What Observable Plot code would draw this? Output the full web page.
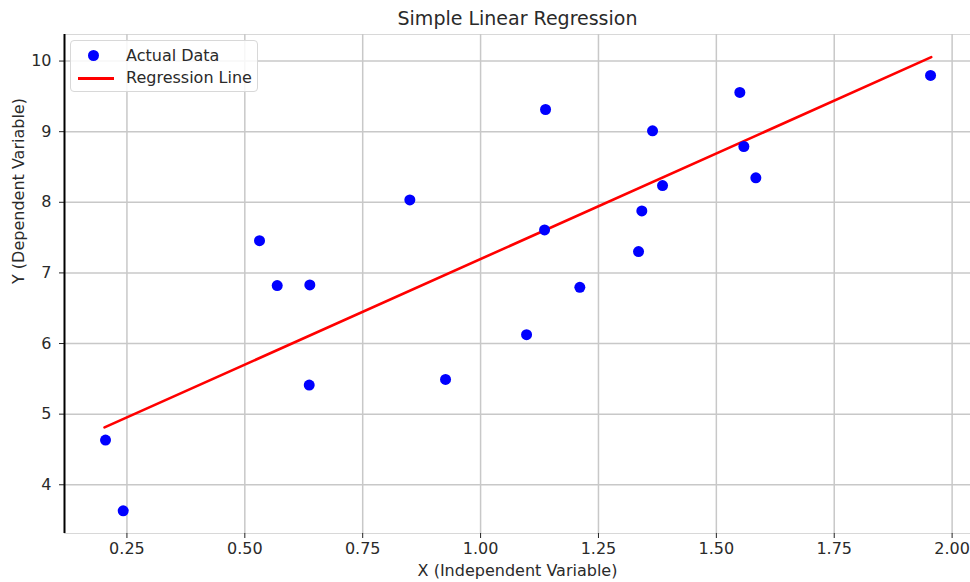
<!DOCTYPE html>
<html>
<head>
<meta charset="utf-8">
<script src="https://cdn.jsdelivr.net/npm/d3@7"></script>
<script src="https://cdn.jsdelivr.net/npm/@observablehq/plot@0.6"></script>
<style>
  html, body { margin: 0; padding: 0; background: #fff; }
  #wrap { position: relative; width: 970px; height: 582px; font-family: "DejaVu Sans", sans-serif; }
  #legend { position: absolute; left: 70px; top: 40px; width: 188px; height: 52px; box-sizing: border-box;
            border: 1px solid #d8d8d8; border-radius: 4px; background: rgba(255,255,255,0.85); }
  .row { position: absolute; left: 0; height: 20px; width: 100%; }
  .lbl { position: absolute; left: 55px; top: 0; font-size: 16px; line-height: 20px; color: #2a2a2a; white-space: nowrap; }
  .dot { position: absolute; left: 17px; top: 4px; width: 11px; height: 11px; border-radius: 50%; background: #0000ff; }
  .ln { position: absolute; left: 7px; top: 9px; width: 36px; height: 3px; background: #ff0000; }
</style>
</head>
<body>
<div id="wrap"></div>
<script>
// Data
const xData = [0.2046, 0.2421, 0.5312, 0.5687, 0.6379, 0.6366, 0.8500, 0.9257, 1.0975, 1.1378,
               1.1357, 1.2105, 1.3350, 1.3420, 1.3647, 1.3859, 1.5498, 1.5583, 1.5838, 1.9543];
const yData = [4.633, 3.631, 7.457, 6.820, 6.830, 5.412, 8.034, 5.492, 6.125, 9.314,
               7.609, 6.796, 7.302, 7.878, 9.012, 8.237, 9.555, 8.790, 8.346, 9.796];
// Regression line end points (as drawn)
const lineX = [0.2025, 1.9558];
const lineY = [4.812, 10.055];
const xTicks = [0.25, 0.50, 0.75, 1.00, 1.25, 1.50, 1.75, 2.00];
const yTicks = [4, 5, 6, 7, 8, 9, 10];
const xDomain = [0.1176, 2.039];
const yDomain = [3.31, 10.376];
const titleText = "Simple Linear Regression";
const xLabel = "X (Independent Variable)";
const yLabel = "Y (Dependent Variable)";
const legendLabels = ["Actual Data", "Regression Line"];

const points = xData.map((x, i) => ({x, y: yData[i]}));
const line = lineX.map((x, i) => ({x, y: lineY[i]}));

const chart = Plot.plot({
  width: 970,
  height: 582,
  marginLeft: 64,
  marginRight: 0,
  marginTop: 34,
  marginBottom: 49,
  style: {fontFamily: "DejaVu Sans, sans-serif", background: "white", color: "#2a2a2a"},
  x: {domain: xDomain},
  y: {domain: yDomain},
  marks: [
    Plot.frame({stroke: "#d8d8d8"}),
    Plot.gridX(xTicks, {stroke: "#c8c8c8", strokeOpacity: 1, strokeWidth: 1.5}),
    Plot.gridY(yTicks, {stroke: "#c8c8c8", strokeOpacity: 1, strokeWidth: 1.5}),
    Plot.axisX(xTicks, {tickFormat: d3.format(".2f"), tickSize: 5, tickPadding: 4, fontSize: 16, label: null, stroke: "#222"}),
    Plot.axisY(yTicks, {tickFormat: d3.format("d"), tickSize: 5, tickPadding: 8, fontSize: 16, label: null, stroke: "#222"}),
    Plot.ruleX([xDomain[0]], {stroke: "black", strokeWidth: 2}),
    Plot.line(line, {x: "x", y: "y", stroke: "#ff0000", strokeWidth: 2.6}),
    Plot.dot(points, {x: "x", y: "y", r: 5.5, fill: "#0000ff", stroke: "none"}),
    Plot.text([titleText], {frameAnchor: "top", lineAnchor: "middle", dy: -16, fontSize: 19, fill: "#2a2a2a"}),
    Plot.text([xLabel], {frameAnchor: "bottom", lineAnchor: "middle", dy: 37, fontSize: 16, fill: "#2a2a2a"}),
    Plot.text([yLabel], {frameAnchor: "left", lineAnchor: "middle", dx: -46, rotate: -90, fontSize: 16, fill: "#2a2a2a"})
  ]
});

const wrap = document.getElementById("wrap");
wrap.appendChild(chart);
const legend = document.createElement("div");
legend.id = "legend";
legend.innerHTML =
  `<div class="row" style="top:5px"><div class="dot"></div><div class="lbl">${legendLabels[0]}</div></div>` +
  `<div class="row" style="top:27px"><div class="ln"></div><div class="lbl">${legendLabels[1]}</div></div>`;
wrap.appendChild(legend);
</script>
</body>
</html>
